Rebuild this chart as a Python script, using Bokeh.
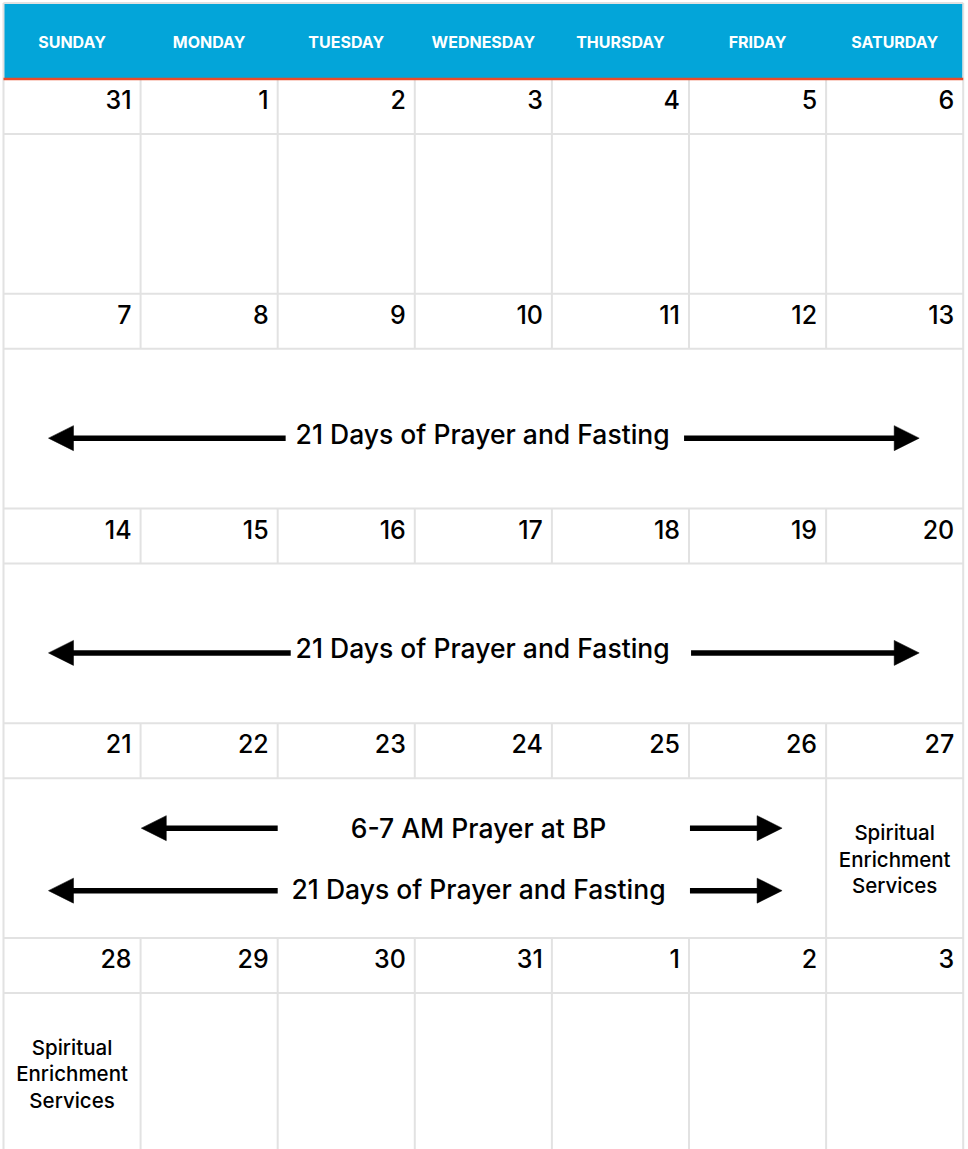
from bokeh.plotting import figure
from bokeh.models import Range1d
from bokeh.core.properties import value
from bokeh.embed import file_html
from bokeh.resources import INLINE

# ---------------- data ----------------
weekdays = ["SUNDAY", "MONDAY", "TUESDAY", "WEDNESDAY", "THURSDAY", "FRIDAY", "SATURDAY"]
week1 = [31, 1, 2, 3, 4, 5, 6]
week2 = [7, 8, 9, 10, 11, 12, 13]
week3 = [14, 15, 16, 17, 18, 19, 20]
week4 = [21, 22, 23, 24, 25, 26, 27]
week5 = [28, 29, 30, 31, 1, 2, 3]
weeks = [week1, week2, week3, week4, week5]

event_labels = ["21 Days of Prayer and Fasting", "21 Days of Prayer and Fasting",
                "6-7 AM Prayer at BP", "21 Days of Prayer and Fasting"]
event_week = [1, 2, 3, 3]
event_first_day = [0, 0, 1, 0]
event_last_day = [6, 6, 5, 5]

note_lines = ["Spiritual", "Enrichment", "Services"]
note_week = [3, 4]
note_day = [6, 0]

# ---------------- layout ----------------
W, H = 968, 1149
X0, COLW = 3.0, 137.1
HEAD_TOP, HEAD_BOT = 2.5, 77.5
GRID_TOP = 78.5
WEEK_H = 214.75
DATE_H = 55.0
EVENT_H = WEEK_H - DATE_H
FONT = "Inter Medium, Inter"
GRID_COLOR = "#E2E2E2"

# arrow extents per event, in column units (left tip, left end, right start, right tip)
arrow_cols = [(0.328, 2.058, 4.964, 6.679),
              (0.328, 2.095, 5.015, 6.679),
              (1.005, 2.000, 5.007, 5.679),
              (0.328, 2.000, 5.007, 5.679)]
label_col = [3.495, 3.495, 3.465, 3.465]


def colx(c):
    return X0 + COLW * c


def week_top(k):
    return GRID_TOP + WEEK_H * k


p = figure(width=W, height=H, output_backend="svg", toolbar_location=None,
           x_range=Range1d(0, W), y_range=Range1d(H, 0),
           x_axis_location=None, y_axis_location=None,
           min_border=0, min_border_left=0, min_border_right=0,
           min_border_top=0, min_border_bottom=0)
p.outline_line_color = None
p.xgrid.visible = False
p.ygrid.visible = False
p.background_fill_color = "white"
p.border_fill_color = "white"
p.styles = {"position": "absolute", "left": "0px", "top": "0px"}

# header band
p.quad(left=[colx(0)], right=[colx(7)], top=[HEAD_TOP], bottom=[HEAD_BOT],
       fill_color="#03A5D9", line_color=None)
hx = [colx(i + 0.5) for i in range(7)]
p.text(x=hx, y=[41.5] * 7, text=weekdays, text_align="center", text_baseline="alphabetic",
       text_font=value("Inter"), text_font_style="bold", text_font_size="16px",
       text_color="white")

# grid lines
hx0, hx1, hy0, hy1 = [], [], [], []
vx0, vx1, vy0, vy1 = [], [], [], []
nweeks = len(weeks)
for k in range(nweeks):
    t = week_top(k)
    if k > 0:
        hx0.append(colx(0)); hx1.append(colx(7)); hy0.append(t); hy1.append(t)
    hx0.append(colx(0)); hx1.append(colx(7)); hy0.append(t + DATE_H); hy1.append(t + DATE_H)
    spans = [(event_first_day[i], event_last_day[i]) for i in range(len(event_week))
             if event_week[i] == k]
    if spans:
        m0 = min(s[0] for s in spans)
        m1 = max(s[1] for s in spans)
    else:
        m0, m1 = None, None
    for b in range(1, 7):
        vx0.append(colx(b)); vx1.append(colx(b)); vy0.append(t); vy1.append(t + DATE_H)
        interior = m0 is not None and m0 < b <= m1
        if not interior:
            vx0.append(colx(b)); vx1.append(colx(b))
            vy0.append(t + DATE_H); vy1.append(min(t + WEEK_H, H + 5))
for b in (0, 7):
    vx0.append(colx(b)); vx1.append(colx(b)); vy0.append(HEAD_TOP); vy1.append(H + 5)
hx0.append(colx(0)); hx1.append(colx(7)); hy0.append(HEAD_TOP); hy1.append(HEAD_TOP)

p.segment(x0=hx0, y0=hy0, x1=hx1, y1=hy1, line_color=GRID_COLOR, line_width=2)
p.segment(x0=vx0, y0=vy0, x1=vx1, y1=vy1, line_color=GRID_COLOR, line_width=2)

# orange line below header
p.segment(x0=[colx(0)], y0=[GRID_TOP], x1=[colx(7)], y1=[GRID_TOP],
          line_color="#E94B2B", line_width=2.5)

# day numbers
dx, dy, dt = [], [], []
for k, wk in enumerate(weeks):
    for c, d in enumerate(wk):
        dx.append(colx(c + 1) - 9)
        dy.append(week_top(k) + 20.5)
        dt.append(str(d))
p.text(x=dx, y=dy, text=dt, text_align="right", text_baseline="alphabetic",
       text_font=value(FONT), text_font_size="25px", text_color="#000000")

# events
ex, ey, et = [], [], []
ax0, ax1, ay = [], [], []
hxs, hys = [], []
HEAD_L, HEAD_W = 25.0, 25.0
for i, lab in enumerate(event_labels):
    k = event_week[i]
    same = [j for j in range(len(event_week)) if event_week[j] == k]
    idx = same.index(i)
    n = len(same)
    center = week_top(k) + DATE_H + EVENT_H / 2
    if n == 1:
        tc, arr = center + 5, center + 9.5
    else:
        tc = center + (-30 if idx == 0 else 31)
        arr = center + (-30 if idx == 0 else 32.5)
    ex.append(colx(label_col[i])); ey.append(tc); et.append(lab)
    lt, le, rs, rt = [colx(v) for v in arrow_cols[i]]
    ax0.append(lt + HEAD_L - 1); ax1.append(le); ay.append(arr)
    hxs.append([lt, lt + HEAD_L, lt + HEAD_L]); hys.append([arr, arr - HEAD_W / 2, arr + HEAD_W / 2])
    ax0.append(rs); ax1.append(rt - HEAD_L + 1); ay.append(arr)
    hxs.append([rt, rt - HEAD_L, rt - HEAD_L]); hys.append([arr, arr - HEAD_W / 2, arr + HEAD_W / 2])

p.segment(x0=ax0, y0=ay, x1=ax1, y1=ay, line_color="black", line_width=5.5, line_cap="butt")
p.patches(xs=hxs, ys=hys, fill_color="black", line_color="black", line_width=0.5)
p.text(x=ex, y=ey, text=et, text_align="center", text_baseline="alphabetic",
       text_font=value(FONT), text_font_size="26.5px", text_color="#000000")

# notes
nx, ny, nt = [], [], []
for k, c in zip(note_week, note_day):
    center = week_top(k) + DATE_H + EVENT_H / 2
    for j, line in enumerate(note_lines):
        nx.append(colx(c + 0.5))
        ny.append(center + 1 + 26.5 * (j - 1))
        nt.append(line)
p.text(x=nx, y=ny, text=nt, text_align="center", text_baseline="alphabetic",
       text_font=value(FONT), text_font_size="20.5px", text_color="#000000")

open("out.html", "w").write(file_html(p, INLINE))
